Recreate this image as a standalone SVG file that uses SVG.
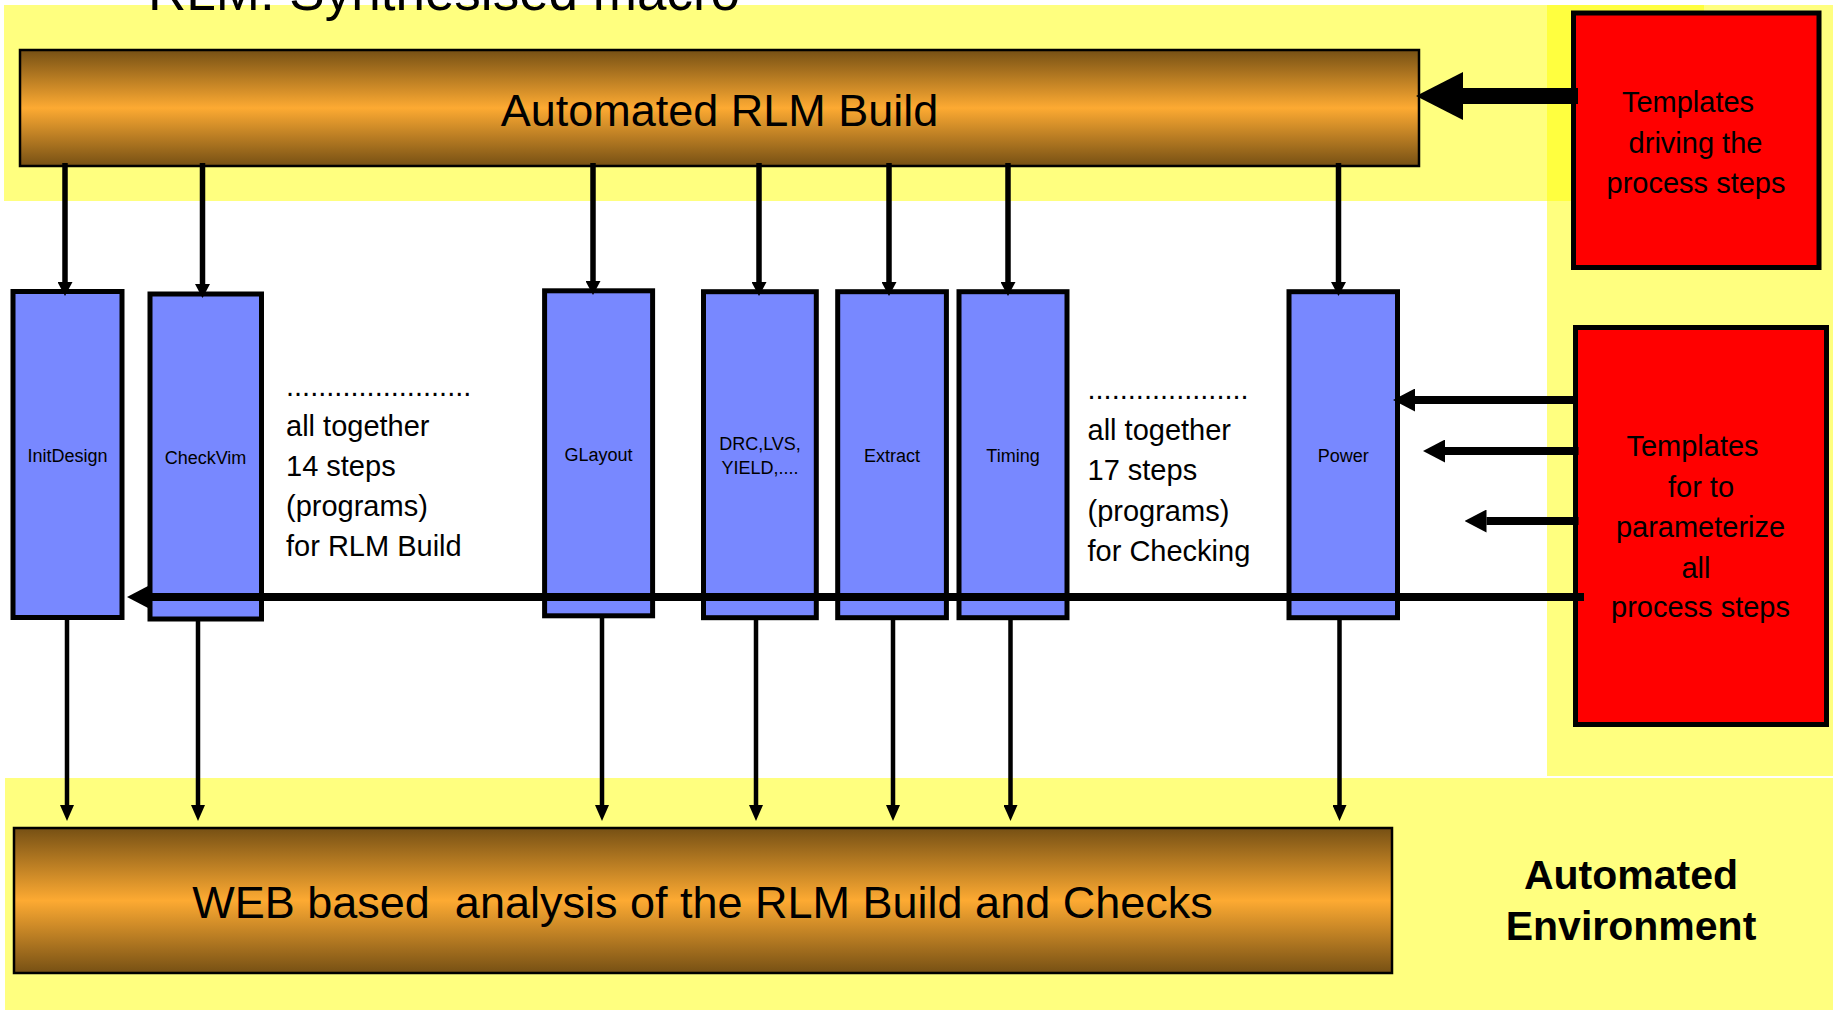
<svg xmlns="http://www.w3.org/2000/svg" width="1833" height="1010" viewBox="0 0 1833 1010">
  <defs>
    <linearGradient id="barFill" x1="0" y1="0" x2="0" y2="1">
      <stop offset="0" stop-color="#765014"/>
      <stop offset="0.5" stop-color="#fdaa32"/>
      <stop offset="1" stop-color="#765014"/>
    </linearGradient>
    <!-- arrowheads, placed with their base on the end of each line -->
    <marker id="headIn" viewBox="0 0 14 15" markerWidth="14" markerHeight="15" refX="0" refY="7.5" markerUnits="userSpaceOnUse" orient="auto">
      <path d="M0,0 L14,7.5 L0,15 Z" fill="#000"/>
    </marker>
    <marker id="headOut" viewBox="0 0 16 14" markerWidth="16" markerHeight="14" refX="0" refY="7" markerUnits="userSpaceOnUse" orient="auto">
      <path d="M0,0 L16,7 L0,14 Z" fill="#000"/>
    </marker>
    <marker id="headWide" viewBox="0 0 22 23" markerWidth="22" markerHeight="23" refX="0" refY="11.5" markerUnits="userSpaceOnUse" orient="auto">
      <path d="M0,0 L22,11.5 L0,23 Z" fill="#000"/>
    </marker>
    <marker id="headBig" viewBox="0 0 47 48" markerWidth="47" markerHeight="48" refX="0" refY="24" markerUnits="userSpaceOnUse" orient="auto">
      <path d="M0,0 L47,24 L0,48 Z" fill="#000"/>
    </marker>
  </defs>
  <style>
    .band { fill: #ffff00; fill-opacity: 0.5; }
    .bar { fill: url(#barFill); stroke: #000; stroke-width: 2.5; }
    .step { fill: #7888ff; stroke: #000; stroke-width: 5; }
    .tmpl { fill: #ff0000; stroke: #000; stroke-width: 5; }
    text { font-family: "Liberation Sans", Arial, sans-serif; fill: #000; }
    .big { font-size: 45px; }
    .lbl { font-size: 18px; text-anchor: middle; }
    .note { font-size: 29px; }
    .tt { font-size: 29px; text-anchor: middle; }
    .env { font-size: 41px; font-weight: bold; text-anchor: middle; }
    .in { stroke: #000; stroke-width: 5.5; fill: none; marker-end: url(#headIn); }
    .out { stroke: #000; stroke-width: 4.5; fill: none; marker-end: url(#headOut); }
    .param { stroke: #000; stroke-width: 8; fill: none; marker-end: url(#headWide); }
    .drive { stroke: #000; stroke-width: 16; fill: none; marker-end: url(#headBig); }
  </style>

  <!-- background areas -->
  <g id="areas">
    <rect class="band" x="4" y="5" width="1700" height="196"/>
    <rect class="band" x="1547" y="5" width="286" height="771"/>
    <rect class="band" x="5" y="778" width="1828" height="232"/>
  </g>

  <text x="148" y="9.5" font-size="53">RLM: Synthesised macro</text>

  <g id="build">
    <rect class="bar" x="20" y="50" width="1399" height="116"/>
    <text class="big" x="719.5" y="126" text-anchor="middle">Automated RLM Build</text>
  </g>

  <g id="web-analysis">
    <rect class="bar" x="14" y="828" width="1378" height="145"/>
    <text class="big" x="702.5" y="918" text-anchor="middle" xml:space="preserve">WEB based  analysis of the RLM Build and Checks</text>
  </g>

  <g id="templates-drive">
    <rect class="tmpl" x="1573.5" y="13" width="245.5" height="254.5"/>
    <text class="tt" x="1688" y="112">Templates</text>
    <text class="tt" x="1695.5" y="153">driving the</text>
    <text class="tt" x="1696" y="193">process steps</text>
  </g>

  <g id="templates-param">
    <rect class="tmpl" x="1575.5" y="327.5" width="251" height="397"/>
    <text class="tt" x="1692.5" y="456">Templates</text>
    <text class="tt" x="1701" y="497">for to</text>
    <text class="tt" x="1700.5" y="537">parameterize</text>
    <text class="tt" x="1696" y="578">all</text>
    <text class="tt" x="1700.5" y="617">process steps</text>
  </g>

  <g id="step-initdesign">
    <rect class="step" x="13" y="291.5" width="109" height="326"/>
    <text class="lbl" x="67.5" y="462">InitDesign</text>
  </g>
  <g id="step-checkvim">
    <rect class="step" x="150" y="294" width="111.5" height="325"/>
    <text class="lbl" x="205.5" y="464">CheckVim</text>
  </g>
  <g id="step-glayout">
    <rect class="step" x="544.6" y="290.8" width="108" height="325"/>
    <text class="lbl" x="598.6" y="461">GLayout</text>
  </g>
  <g id="step-drc">
    <rect class="step" x="703.5" y="291.7" width="112.8" height="326"/>
    <text class="lbl" x="760" y="450">DRC,LVS,</text>
    <text class="lbl" x="760" y="474">YIELD,....</text>
  </g>
  <g id="step-extract">
    <rect class="step" x="837.7" y="291.7" width="108.7" height="326"/>
    <text class="lbl" x="892" y="462">Extract</text>
  </g>
  <g id="step-timing">
    <rect class="step" x="959" y="291.7" width="108" height="326"/>
    <text class="lbl" x="1013" y="462">Timing</text>
  </g>
  <g id="step-power">
    <rect class="step" x="1289" y="291.7" width="108.5" height="326"/>
    <text class="lbl" x="1343.3" y="462">Power</text>
  </g>

  <g id="build-steps-note">
    <text class="note" x="286" y="396">.......................</text>
    <text class="note" x="286" y="436">all together</text>
    <text class="note" x="286" y="476">14 steps</text>
    <text class="note" x="286" y="516">(programs)</text>
    <text class="note" x="286" y="556">for RLM Build</text>
  </g>

  <g id="check-steps-note">
    <text class="note" x="1087.5" y="399">....................</text>
    <text class="note" x="1087.5" y="439.5">all together</text>
    <text class="note" x="1087.5" y="480">17 steps</text>
    <text class="note" x="1087.5" y="520.5">(programs)</text>
    <text class="note" x="1087.5" y="561">for Checking</text>
  </g>

  <g id="connectors">
    <!-- build bar down to each step -->
    <path class="in" d="M65,163 V282"/>
    <path class="in" d="M202.5,163 V284"/>
    <path class="in" d="M593,163 V281"/>
    <path class="in" d="M759,163 V282"/>
    <path class="in" d="M889,163 V282"/>
    <path class="in" d="M1008,163 V282"/>
    <path class="in" d="M1338.5,163 V282"/>
    <!-- each step down to the web analysis -->
    <path class="out" d="M67,618 V805"/>
    <path class="out" d="M198,619 V805"/>
    <path class="out" d="M602,616 V805"/>
    <path class="out" d="M756,618 V805"/>
    <path class="out" d="M893,618 V805"/>
    <path class="out" d="M1010.5,618 V805"/>
    <path class="out" d="M1339.5,618 V805"/>
    <!-- templates driving the build -->
    <path class="drive" d="M1578,96 H1463"/>
    <!-- parameter templates into the steps -->
    <path class="param" d="M1584,597 H149"/>
    <path class="param" d="M1573.5,400 H1415"/>
    <path class="param" d="M1578.5,451 H1445"/>
    <path class="param" d="M1578.5,521 H1486.5"/>
  </g>

  <g id="environment-label">
    <text class="env" x="1631" y="889">Automated</text>
    <text class="env" x="1631" y="940">Environment</text>
  </g>
</svg>
